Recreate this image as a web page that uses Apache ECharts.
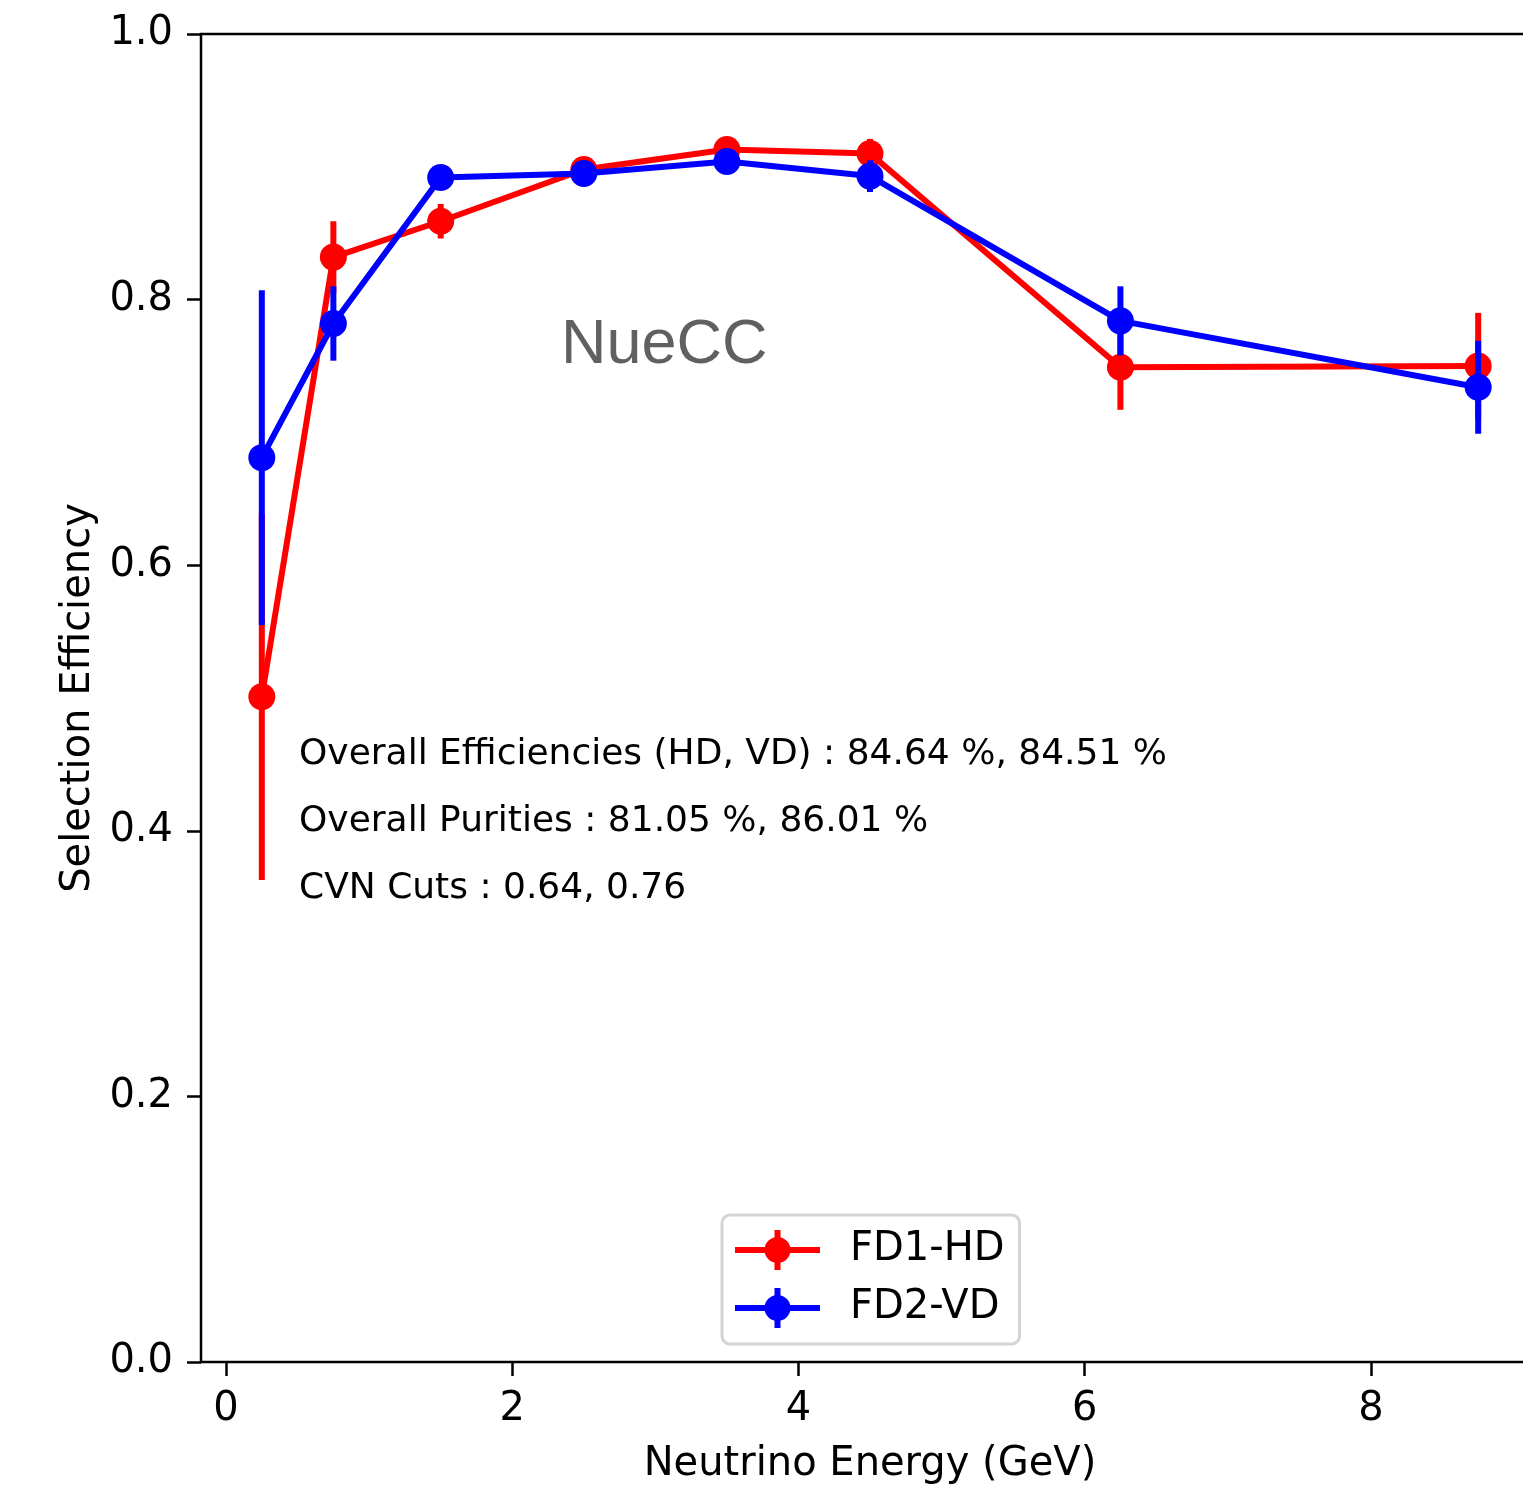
<!DOCTYPE html>
<html>
<head>
<meta charset="utf-8">
<script src="https://cdn.jsdelivr.net/npm/echarts@6/dist/echarts.min.js"></script>
<style>
html,body{margin:0;padding:0;background:#fff;overflow:hidden;width:1523px;height:1490px;}
#chart{width:1540px;height:1490px;}
</style>
</head>
<body>
<div id="chart"></div>
<script>
// ---- data ----
const energies = [0.25, 0.75, 1.5, 2.5, 3.5, 4.5, 6.25, 8.75];
const hdEff = [0.501, 0.832, 0.859, 0.898, 0.913, 0.910, 0.749, 0.750];
const hdErr = [0.138, 0.027, 0.013, 0.006, 0.006, 0.011, 0.032, 0.040];
const vdEff = [0.681, 0.782, 0.892, 0.895, 0.904, 0.893, 0.784, 0.734];
const vdErr = [0.126, 0.028, 0.007, 0.006, 0.006, 0.012, 0.026, 0.035];
const xTicks = [0, 2, 4, 6, 8];
const seriesNames = ['FD1-HD', 'FD2-VD'];
const annotations = [
  'Overall Efficiencies (HD, VD) : 84.64 %, 84.51 %',
  'Overall Purities : 81.05 %, 86.01 %',
  'CVN Cuts : 0.64, 0.76'
];
const panelTitle = 'NueCC';

const RED = '#ff0000', BLUE = '#0000ff';
const FONT = 'DejaVu Sans';

function pts(ys) { return energies.map((x, i) => [x, ys[i]]); }
function errPts(ys, es) { return energies.map((x, i) => [x, ys[i] - es[i], ys[i] + es[i]]); }

function errRender(color) {
  return function (params, api) {
    const p1 = api.coord([api.value(0), api.value(1)]);
    const p2 = api.coord([api.value(0), api.value(2)]);
    return {
      type: 'line',
      shape: { x1: p1[0], y1: p1[1], x2: p2[0], y2: p2[1] },
      style: { stroke: color, lineWidth: 6 }
    };
  };
}

const iconPath = 'path://M0 17 H85 V23 H0 Z M39.5 0 H45.5 V40 H39.5 Z M29.5 20 A13 13 0 1 1 55.5 20 A13 13 0 1 1 29.5 20 Z';

const chart = echarts.init(document.getElementById('chart'), null, { renderer: 'canvas' });
const option = {
  animation: false,
  backgroundColor: '#ffffff',
  textStyle: { fontFamily: FONT },
  grid: {
    left: 201, top: 34, width: 1338, height: 1329,
    show: true, borderColor: '#000', borderWidth: 2.5, backgroundColor: 'transparent'
  },
  xAxis: {
    type: 'value', min: -0.175, max: 9.175,
    name: 'Neutrino Energy (GeV)', nameLocation: 'middle', nameGap: 83, nameMoveOverlap: false,
    nameTextStyle: { fontSize: 40, color: '#000', fontFamily: FONT },
    axisLine: { show: false, onZero: false },
    axisTick: { show: true, length: 14, lineStyle: { color: '#000', width: 2.5 }, customValues: xTicks },
    axisLabel: { fontSize: 40, color: '#000', margin: 28, fontFamily: FONT, customValues: xTicks },
    splitLine: { show: false }
  },
  yAxis: {
    type: 'value', min: 0, max: 1, interval: 0.2,
    name: 'Selection Efficiency', nameLocation: 'middle', nameGap: 102, nameRotate: 90, nameMoveOverlap: false,
    nameTextStyle: { fontSize: 40, color: '#000', fontFamily: FONT },
    axisLine: { show: false, onZero: false },
    axisTick: { show: true, length: 14, lineStyle: { color: '#000', width: 2.5 } },
    axisLabel: { fontSize: 40, color: '#000', margin: 28, fontFamily: FONT, formatter: v => v.toFixed(1) },
    splitLine: { show: false }
  },
  legend: {
    left: 722, top: 1215,
    orient: 'vertical',
    data: seriesNames,
    icon: iconPath,
    itemWidth: 85, itemHeight: 40, itemGap: 12,
    padding: [12, 15, 13, 13],
    borderColor: '#d4d4d4', borderWidth: 3, borderRadius: 8,
    backgroundColor: '#ffffff',
    itemStyle: { borderWidth: 0 },
    textStyle: { fontSize: 40, color: '#000', fontFamily: FONT, padding: [0, 0, 0, 25], lineHeight: 46 }
  },
  graphic: [
    { type: 'text', left: 561, top: 314, z: 10,
      style: { text: panelTitle, fontSize: 63, fontFamily: 'Liberation Sans', fill: '#606060' } },
    { type: 'text', left: 299, top: 737, z: 10,
      style: { text: annotations[0], fontSize: 36, fontFamily: FONT, fill: '#000' } },
    { type: 'text', left: 299, top: 804, z: 10,
      style: { text: annotations[1], fontSize: 36, fontFamily: FONT, fill: '#000' } },
    { type: 'text', left: 299, top: 871, z: 10,
      style: { text: annotations[2], fontSize: 36, fontFamily: FONT, fill: '#000' } }
  ],
  series: [
    { name: seriesNames[0] + ' err', type: 'custom', z: 2, data: errPts(hdEff, hdErr),
      renderItem: errRender(RED), silent: true },
    { name: seriesNames[0], type: 'line', z: 3, data: pts(hdEff), color: RED,
      symbol: 'circle', symbolSize: 27, showAllSymbol: true,
      lineStyle: { color: RED, width: 6 }, itemStyle: { color: RED } },
    { name: seriesNames[1] + ' err', type: 'custom', z: 4, data: errPts(vdEff, vdErr),
      renderItem: errRender(BLUE), silent: true },
    { name: seriesNames[1], type: 'line', z: 5, data: pts(vdEff), color: BLUE,
      symbol: 'circle', symbolSize: 27, showAllSymbol: true,
      lineStyle: { color: BLUE, width: 6 }, itemStyle: { color: BLUE } }
  ]
};
chart.setOption(option);
</script>
</body>
</html>
